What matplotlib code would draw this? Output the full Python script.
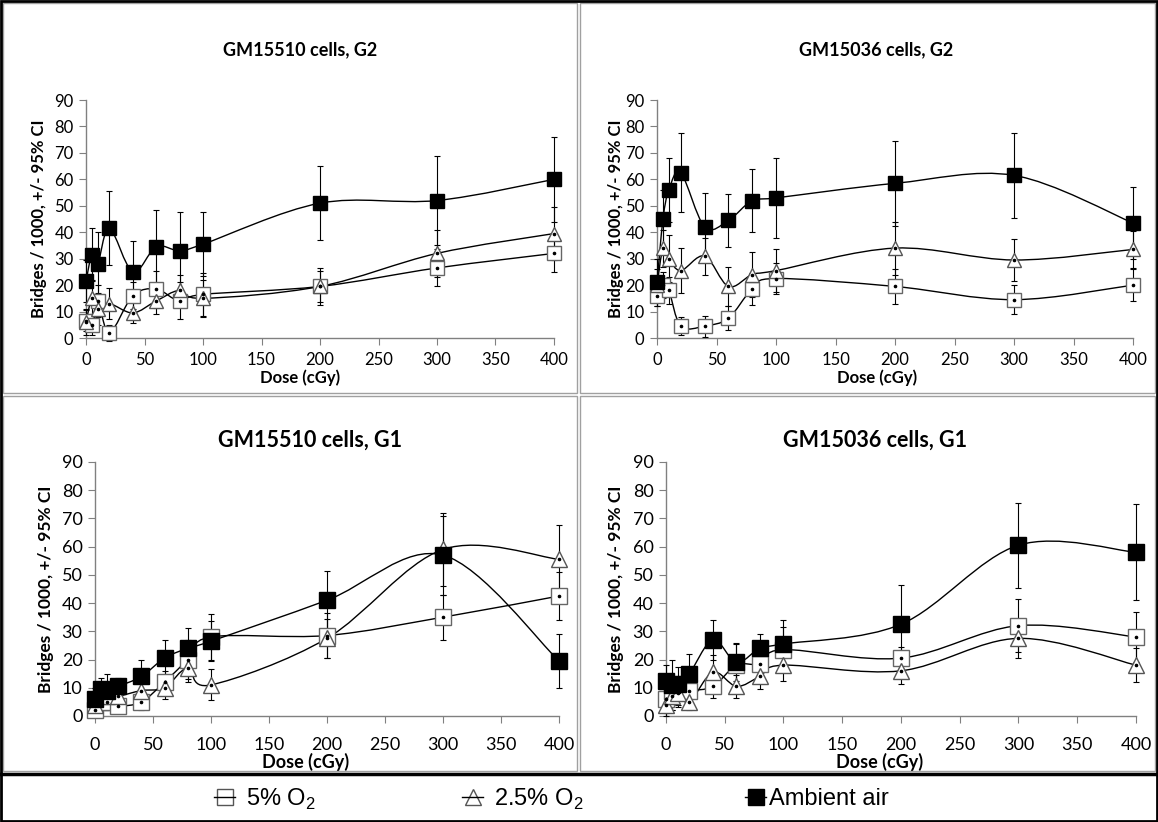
import numpy as np
import matplotlib
matplotlib.use('Agg')
import matplotlib.pyplot as plt
from matplotlib.path import Path
from matplotlib.patches import PathPatch, Rectangle
from matplotlib.lines import Line2D

plt.rcParams['font.family'] = ['Lato', 'DejaVu Sans']

# Dose values (cGy)
dose = [0, 5, 10, 20, 40, 60, 80, 100, 200, 300, 400]

# GM15510 cells, G2
g2_15510_air = [21.5, 31.5, 28, 41.5, 25, 34.5, 33, 35.5, 51, 52, 60]
g2_15510_air_ci = [8, 10, 12, 14, 11.5, 14, 14.5, 12, 14, 17, 16]
g2_15510_o5 = [6.5, 5, 14, 2, 16, 18.5, 14, 16.5, 19.5, 26.5, 32]
g2_15510_o5_ci = [4, 4, 6, 3, 5, 7, 7, 8, 6, 7, 7]
g2_15510_o25 = [6, 15, 11, 13, 9.5, 14, 18, 15, 19.5, 32, 39.5]
g2_15510_o25_ci = [5, 7, 6, 6, 4, 5, 6, 7, 7, 9, 10]

# GM15036 cells, G2
g2_15036_air = [21, 45, 56, 62.5, 42, 44.5, 52, 53, 58.5, 61.5, 43.5]
g2_15036_air_ci = [9, 11, 12, 15, 13, 10, 12, 15, 16, 16, 13.5]
g2_15036_o5 = [16, 20, 18, 4.5, 4.5, 7.5, 18.5, 22.5, 19.5, 14.5, 20]
g2_15036_o5_ci = [4, 5, 5, 3.5, 4, 4.5, 6, 6, 6.5, 5.5, 6]
g2_15036_o25 = [20, 34, 30, 25.5, 31, 19.5, 24, 25.5, 34, 29.5, 33.5]
g2_15036_o25_ci = [6, 7, 9, 8.5, 7, 7.5, 8.5, 8, 10, 8, 7]

# GM15510 cells, G1
g1_15510_air = [6, 9.5, 9, 10.5, 14, 20.5, 24, 26.5, 41, 57, 19.5]
g1_15510_air_ci = [4, 4, 6, 3, 6, 6.5, 7, 7, 10.5, 14, 9.5]
g1_15510_o5 = [2, 5, 5, 3.5, 5, 12, 20, 28, 28.5, 35, 42.5]
g1_15510_o5_ci = [2, 3, 3, 2, 3, 4, 7, 8, 8, 8, 8.5]
g1_15510_o25 = [4, 7, 7, 7, 9, 10, 17, 11, 27.5, 59, 55.5]
g1_15510_o25_ci = [3, 4, 4, 3, 4, 4, 5, 5.5, 7, 13, 12]

# GM15036 cells, G1
g1_15036_air = [12.5, 11, 11.5, 15, 27, 19, 24, 25.5, 32.5, 60.5, 58]
g1_15036_air_ci = [5.5, 9, 6, 7, 7, 6.5, 5, 8.5, 14, 15, 17]
g1_15036_o5 = [6, 9, 9, 9, 10.5, 18, 18.5, 23.5, 20.5, 32, 28]
g1_15036_o5_ci = [6, 5, 5, 4, 4, 8, 6, 8, 4, 9.5, 9]
g1_15036_o25 = [4, 7, 8, 5, 15.5, 10.5, 14, 18, 16, 27.5, 18]
g1_15036_o25_ci = [3, 5, 5, 3, 6, 4, 4.5, 5.5, 4.5, 7, 6]

panel_titles = ['GM15510 cells, G2', 'GM15036 cells, G2',
                'GM15510 cells, G1', 'GM15036 cells, G1']
legend_labels = [r'5% O$_\mathregular{2}$', r'2.5% O$_\mathregular{2}$', 'Ambient air']


def smooth_path(x, y):
    # Excel style smoothed line (Catmull-Rom as cubic Bezier)
    pts = np.column_stack([x, y]).astype(float)
    n = len(pts)
    verts = [pts[0]]
    codes = [Path.MOVETO]
    for i in range(n - 1):
        p0 = pts[max(i - 1, 0)]
        p1 = pts[i]
        p2 = pts[i + 1]
        p3 = pts[min(i + 2, n - 1)]
        verts += [p1 + (p2 - p0) / 6, p2 - (p3 - p1) / 6, p2]
        codes += [Path.CURVE4] * 3
    return Path(verts, codes)


def draw_panel(ax, series, big):
    ms = 11 if big else 10
    styles = [('s', 'white', '#666666'), ('^', 'white', '#555555'), ('s', 'black', 'black')]
    for (vals, ci), (mk, fc, ec) in zip(series, styles):
        ax.add_patch(PathPatch(smooth_path(dose, vals), facecolor='none',
                               edgecolor='black', lw=1.0, clip_on=False, zorder=3))
        ax.errorbar(dose, vals, yerr=ci, fmt='none', ecolor='black', elinewidth=0.8,
                    capsize=2.5, capthick=0.8, clip_on=False, zorder=4)
        ax.plot(dose, vals, linestyle='none', marker=mk, ms=ms, mfc=fc, mec=ec,
                mew=1.0, clip_on=False, zorder=5)
        ax.plot(dose, vals, linestyle='none', marker='o', ms=1.6, color='black',
                clip_on=False, zorder=6)
    ax.set_xlim(0, 400)
    ax.set_ylim(0, 90)
    ax.set_xticks(range(0, 401, 50))
    ax.set_yticks(range(0, 91, 10))
    for s in ['top', 'right']:
        ax.spines[s].set_visible(False)
    for s in ['left', 'bottom']:
        ax.spines[s].set_color('#808080')
        ax.spines[s].set_linewidth(1.0)
    ax.tick_params(direction='out', length=5, color='#808080',
                   labelsize=13 if big else 12, pad=4)
    ax.tick_params(axis='x', pad=10 if big else 5)
    ax.patch.set_alpha(0)


fig = plt.figure(figsize=(11.58, 8.22), dpi=100)

axes_rects = [[0.0743, 0.5888, 0.4041, 0.2895],
              [0.5674, 0.5888, 0.4111, 0.2895],
              [0.0820, 0.1290, 0.4007, 0.3090],
              [0.5751, 0.1290, 0.4059, 0.3090]]
panel_data = [
    [(g2_15510_o5, g2_15510_o5_ci), (g2_15510_o25, g2_15510_o25_ci), (g2_15510_air, g2_15510_air_ci)],
    [(g2_15036_o5, g2_15036_o5_ci), (g2_15036_o25, g2_15036_o25_ci), (g2_15036_air, g2_15036_air_ci)],
    [(g1_15510_o5, g1_15510_o5_ci), (g1_15510_o25, g1_15510_o25_ci), (g1_15510_air, g1_15510_air_ci)],
    [(g1_15036_o5, g1_15036_o5_ci), (g1_15036_o25, g1_15036_o25_ci), (g1_15036_air, g1_15036_air_ci)],
]
title_pos = [(0.259, 0.939), (0.757, 0.939), (0.268, 0.465), (0.756, 0.465)]
ylab_x = [-0.083, -0.069, -0.088, -0.089]
xlab_pos = [(0.457, -0.134), (0.462, -0.134), (0.453, -0.146), (0.455, -0.146)]

for i in range(4):
    big = i >= 2
    ax = fig.add_axes(axes_rects[i])
    draw_panel(ax, panel_data[i], big)
    ax.set_ylabel('Bridges / 1000, +/- 95% CI', fontsize=12.5 if big else 12, fontweight='bold')
    ax.yaxis.set_label_coords(ylab_x[i], 0.5)
    ax.set_xlabel('Dose (cGy)', fontsize=13 if big else 12, fontweight='bold')
    ax.xaxis.set_label_coords(*xlab_pos[i])
    fig.text(title_pos[i][0], title_pos[i][1], panel_titles[i], ha='center', va='center',
             fontsize=15.5 if big else 13, fontweight='bold')

# panel frames
W, H = 1158, 822
def px_rect(x0, y0, x1, y1, **kw):
    fig.add_artist(Rectangle((x0 / W, 1 - y1 / H), (x1 - x0) / W, (y1 - y0) / H,
                             transform=fig.transFigure, fill=False, **kw))

px_rect(3, 3, 577, 393, ec='#a0a0a0', lw=1)
px_rect(580, 3, 1155, 393, ec='#a0a0a0', lw=1)
px_rect(3, 396, 577, 771, ec='#a0a0a0', lw=1)
px_rect(580, 396, 1155, 771, ec='#a0a0a0', lw=1)
px_rect(1, 1, 1157, 821, ec='black', lw=2)
fig.add_artist(Line2D([0, 1], [1 - 774 / H, 1 - 774 / H], transform=fig.transFigure,
                      color='black', lw=2.5))

# legend, one entry per slot
mk_kw = dict(linestyle='none', ms=12)
line_kw = dict(color='black', lw=1)
handles = [(Line2D([], [], marker='s', mfc='white', mec='#555555', **mk_kw), Line2D([], [], **line_kw)),
           (Line2D([], [], marker='^', mfc='white', mec='#555555', **mk_kw), Line2D([], [], **line_kw)),
           (Line2D([], [], marker='s', mfc='black', mec='black', **mk_kw), Line2D([], [], **line_kw))]
slot_x = [214, 462, 745]
pads = [0.45, 0.45, 0.1]
for h, lab, sx, tp in zip(handles, legend_labels, slot_x, pads):
    fig.legend([h], [lab], loc='center left', bbox_to_anchor=(sx / W, 1 - 799 / H),
               frameon=False, handlelength=0.9, handletextpad=tp, borderpad=0, borderaxespad=0,
               prop={'family': ['Liberation Sans Narrow', 'Liberation Sans', 'DejaVu Sans'],
                     'size': 17})

fig.savefig('out.png', dpi=100)
